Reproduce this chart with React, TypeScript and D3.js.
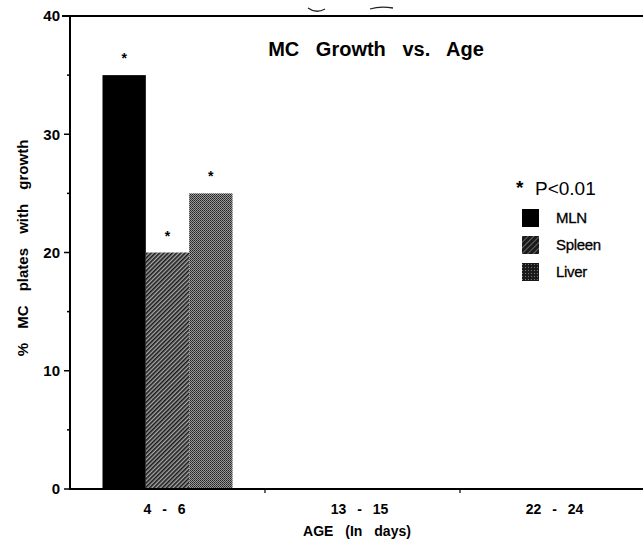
import React, { useEffect, useRef } from 'react';
import * as d3 from 'd3';

const ageGroups = ['4 - 6', '13 - 15', '22 - 24'];
const tissues = ['MLN', 'Spleen', 'Liver'];
// % MC plates with growth, one array per tissue, indexed by age group (only 4-6 days has growth)
const mlnValues = [35, 0, 0];
const spleenValues = [20, 0, 0];
const liverValues = [25, 0, 0];
const significant = [true, false, false];
const yTicks = [0, 10, 20, 30, 40];
const yMinorTicks = [5, 15, 25, 35];

const W = 643;
const H = 541;

const App: React.FC = () => {
  const svgRef = useRef<SVGSVGElement>(null);

  useEffect(() => {
    if (!svgRef.current) return;
    const svg = d3.select(svgRef.current);
    svg.selectAll('*').remove();

    const font = '"Liberation Sans", Arial, sans-serif';
    const narrow = '"Liberation Sans Narrow", "Liberation Sans", Arial, sans-serif';
    const margin = { top: 16, left: 70, bottom: 52 };
    const plotBottom = H - margin.bottom;

    const x = d3.scaleBand<string>().domain(ageGroups).range([margin.left, margin.left + 3 * 195]);
    const inner = d3.scaleBand<string>().domain(tissues).range([0, x.bandwidth()]).paddingInner(0).paddingOuter(0.75);
    const y = d3.scaleLinear().domain([0, 40]).range([plotBottom, margin.top]);

    const defs = svg.append('defs');
    const hatch = defs.append('pattern').attr('id', 'hatch').attr('patternUnits', 'userSpaceOnUse')
      .attr('width', 3).attr('height', 3).attr('patternTransform', 'rotate(45)');
    hatch.append('rect').attr('width', 3).attr('height', 3).attr('fill', '#a8a8a8');
    hatch.append('rect').attr('width', 1.6).attr('height', 3).attr('fill', '#1a1a1a');

    const dots = defs.append('pattern').attr('id', 'dots').attr('patternUnits', 'userSpaceOnUse')
      .attr('width', 2).attr('height', 2);
    dots.append('rect').attr('width', 2).attr('height', 2).attr('fill', '#9a9a9a');
    dots.append('rect').attr('width', 1).attr('height', 1).attr('fill', '#222');
    dots.append('rect').attr('x', 1).attr('y', 1).attr('width', 1).attr('height', 1).attr('fill', '#3a3a3a');

    const legendHatch = defs.append('pattern').attr('id', 'lhatch').attr('patternUnits', 'userSpaceOnUse')
      .attr('width', 4).attr('height', 4).attr('patternTransform', 'rotate(45)');
    legendHatch.append('rect').attr('width', 4).attr('height', 4).attr('fill', '#1a1a1a');
    legendHatch.append('rect').attr('width', 1).attr('height', 4).attr('fill', '#666');

    const legendDots = defs.append('pattern').attr('id', 'ldots').attr('patternUnits', 'userSpaceOnUse')
      .attr('width', 3).attr('height', 3);
    legendDots.append('rect').attr('width', 3).attr('height', 3).attr('fill', '#1a1a1a');
    legendDots.append('rect').attr('width', 1).attr('height', 1).attr('fill', '#777');

    const fills: Record<string, string> = { MLN: '#000', Spleen: 'url(#hatch)', Liver: 'url(#dots)' };
    const legendFills: Record<string, string> = { MLN: '#000', Spleen: 'url(#lhatch)', Liver: 'url(#ldots)' };
    const seriesValues: Record<string, number[]> = { MLN: mlnValues, Spleen: spleenValues, Liver: liverValues };

    const g = svg.append('g');

    // bars
    ageGroups.forEach((age, i) => {
      tissues.forEach(t => {
        const v = seriesValues[t][i];
        if (v <= 0) return;
        const bx = (x(age) as number) + (inner(t) as number);
        g.append('rect')
          .attr('x', bx).attr('y', y(v))
          .attr('width', inner.bandwidth()).attr('height', y(0) - y(v))
          .attr('fill', fills[t]);
        if (significant[i]) {
          g.append('text')
            .attr('x', bx + inner.bandwidth() / 2).attr('y', y(v) - 12)
            .attr('text-anchor', 'middle').attr('font-family', font).attr('font-weight', 'bold')
            .attr('font-size', 14).text('*');
        }
      });
    });

    // frame lines
    g.append('line').attr('x1', 62).attr('x2', W).attr('y1', y(40)).attr('y2', y(40))
      .attr('stroke', '#000').attr('stroke-width', 2);
    g.append('line').attr('x1', margin.left).attr('x2', W).attr('y1', y(0)).attr('y2', y(0))
      .attr('stroke', '#000').attr('stroke-width', 2);
    g.append('line').attr('x1', margin.left).attr('x2', margin.left).attr('y1', y(40)).attr('y2', y(0) + 1)
      .attr('stroke', '#000').attr('stroke-width', 2);

    // y ticks
    yTicks.forEach(t => {
      g.append('line').attr('x1', margin.left - 6).attr('x2', margin.left).attr('y1', y(t)).attr('y2', y(t))
        .attr('stroke', '#000').attr('stroke-width', 1.5);
      g.append('text').attr('x', margin.left - 10).attr('y', y(t)).attr('dy', '0.36em')
        .attr('text-anchor', 'end').attr('font-family', font).attr('font-size', 15).attr('font-weight', 'bold')
        .text(String(t));
    });
    yMinorTicks.forEach(t => {
      g.append('line').attr('x1', margin.left - 3).attr('x2', margin.left).attr('y1', y(t)).attr('y2', y(t))
        .attr('stroke', '#000').attr('stroke-width', 1.5);
    });

    // x ticks at band boundaries and labels
    ageGroups.slice(1).forEach(a => {
      g.append('line').attr('x1', x(a) as number).attr('x2', x(a) as number).attr('y1', y(0)).attr('y2', y(0) + 4)
        .attr('stroke', '#000').attr('stroke-width', 1.2);
    });
    ageGroups.forEach(a => {
      g.append('text').attr('x', (x(a) as number) + x.bandwidth() / 2 - 3).attr('y', y(0) + 25)
        .attr('text-anchor', 'middle').attr('font-family', font).attr('font-size', 14).attr('font-weight', 'bold')
        .attr('word-spacing', 7).text(a);
    });

    // axis titles
    g.append('text').attr('x', 357).attr('y', 536).attr('text-anchor', 'middle')
      .attr('font-family', font).attr('font-size', 14).attr('font-weight', 'bold').attr('word-spacing', 8)
      .text('AGE (In days)');
    g.append('text').attr('transform', 'translate(28,248) rotate(-90)').attr('text-anchor', 'middle')
      .attr('font-family', font).attr('font-size', 15).attr('font-weight', 'bold').attr('word-spacing', 10)
      .text('% MC plates with growth');

    // title
    g.append('text').attr('x', 376).attr('y', 56).attr('text-anchor', 'middle')
      .attr('font-family', font).attr('font-size', 20).attr('font-weight', 'bold').attr('word-spacing', 11)
      .text('MC Growth vs. Age');

    // scan artifacts on the top rule
    g.append('path').attr('d', 'M308,8 Q316,14 325,9').attr('fill', 'none').attr('stroke', '#222').attr('stroke-width', 1.3);
    g.append('path').attr('d', 'M370,9 Q380,6 393,8').attr('fill', 'none').attr('stroke', '#222').attr('stroke-width', 1.3);

    // legend
    const lg = g.append('g');
    lg.append('text').attr('x', 516).attr('y', 194).attr('font-family', font).attr('font-size', 19)
      .attr('font-weight', 'bold').text('*');
    lg.append('text').attr('x', 535).attr('y', 195).attr('font-family', font).attr('font-size', 19)
      .text('P<0.01');
    tissues.forEach((t, i) => {
      const ly = 209 + i * 27;
      lg.append('rect').attr('x', 522).attr('y', ly).attr('width', 17).attr('height', 18).attr('fill', legendFills[t]);
      lg.append('text').attr('x', 556).attr('y', ly + 9).attr('dy', '0.35em')
        .attr('font-family', narrow).attr('font-size', 15).attr('letter-spacing', -0.3)
        .attr('stroke', '#000').attr('stroke-width', 0.3).text(t);
    });
  }, []);

  return (
    <div style={{ position: 'absolute', left: 0, top: 0, width: W, height: H, background: '#fff' }}>
      <svg ref={svgRef} width={W} height={H} />
    </div>
  );
};

export default App;
